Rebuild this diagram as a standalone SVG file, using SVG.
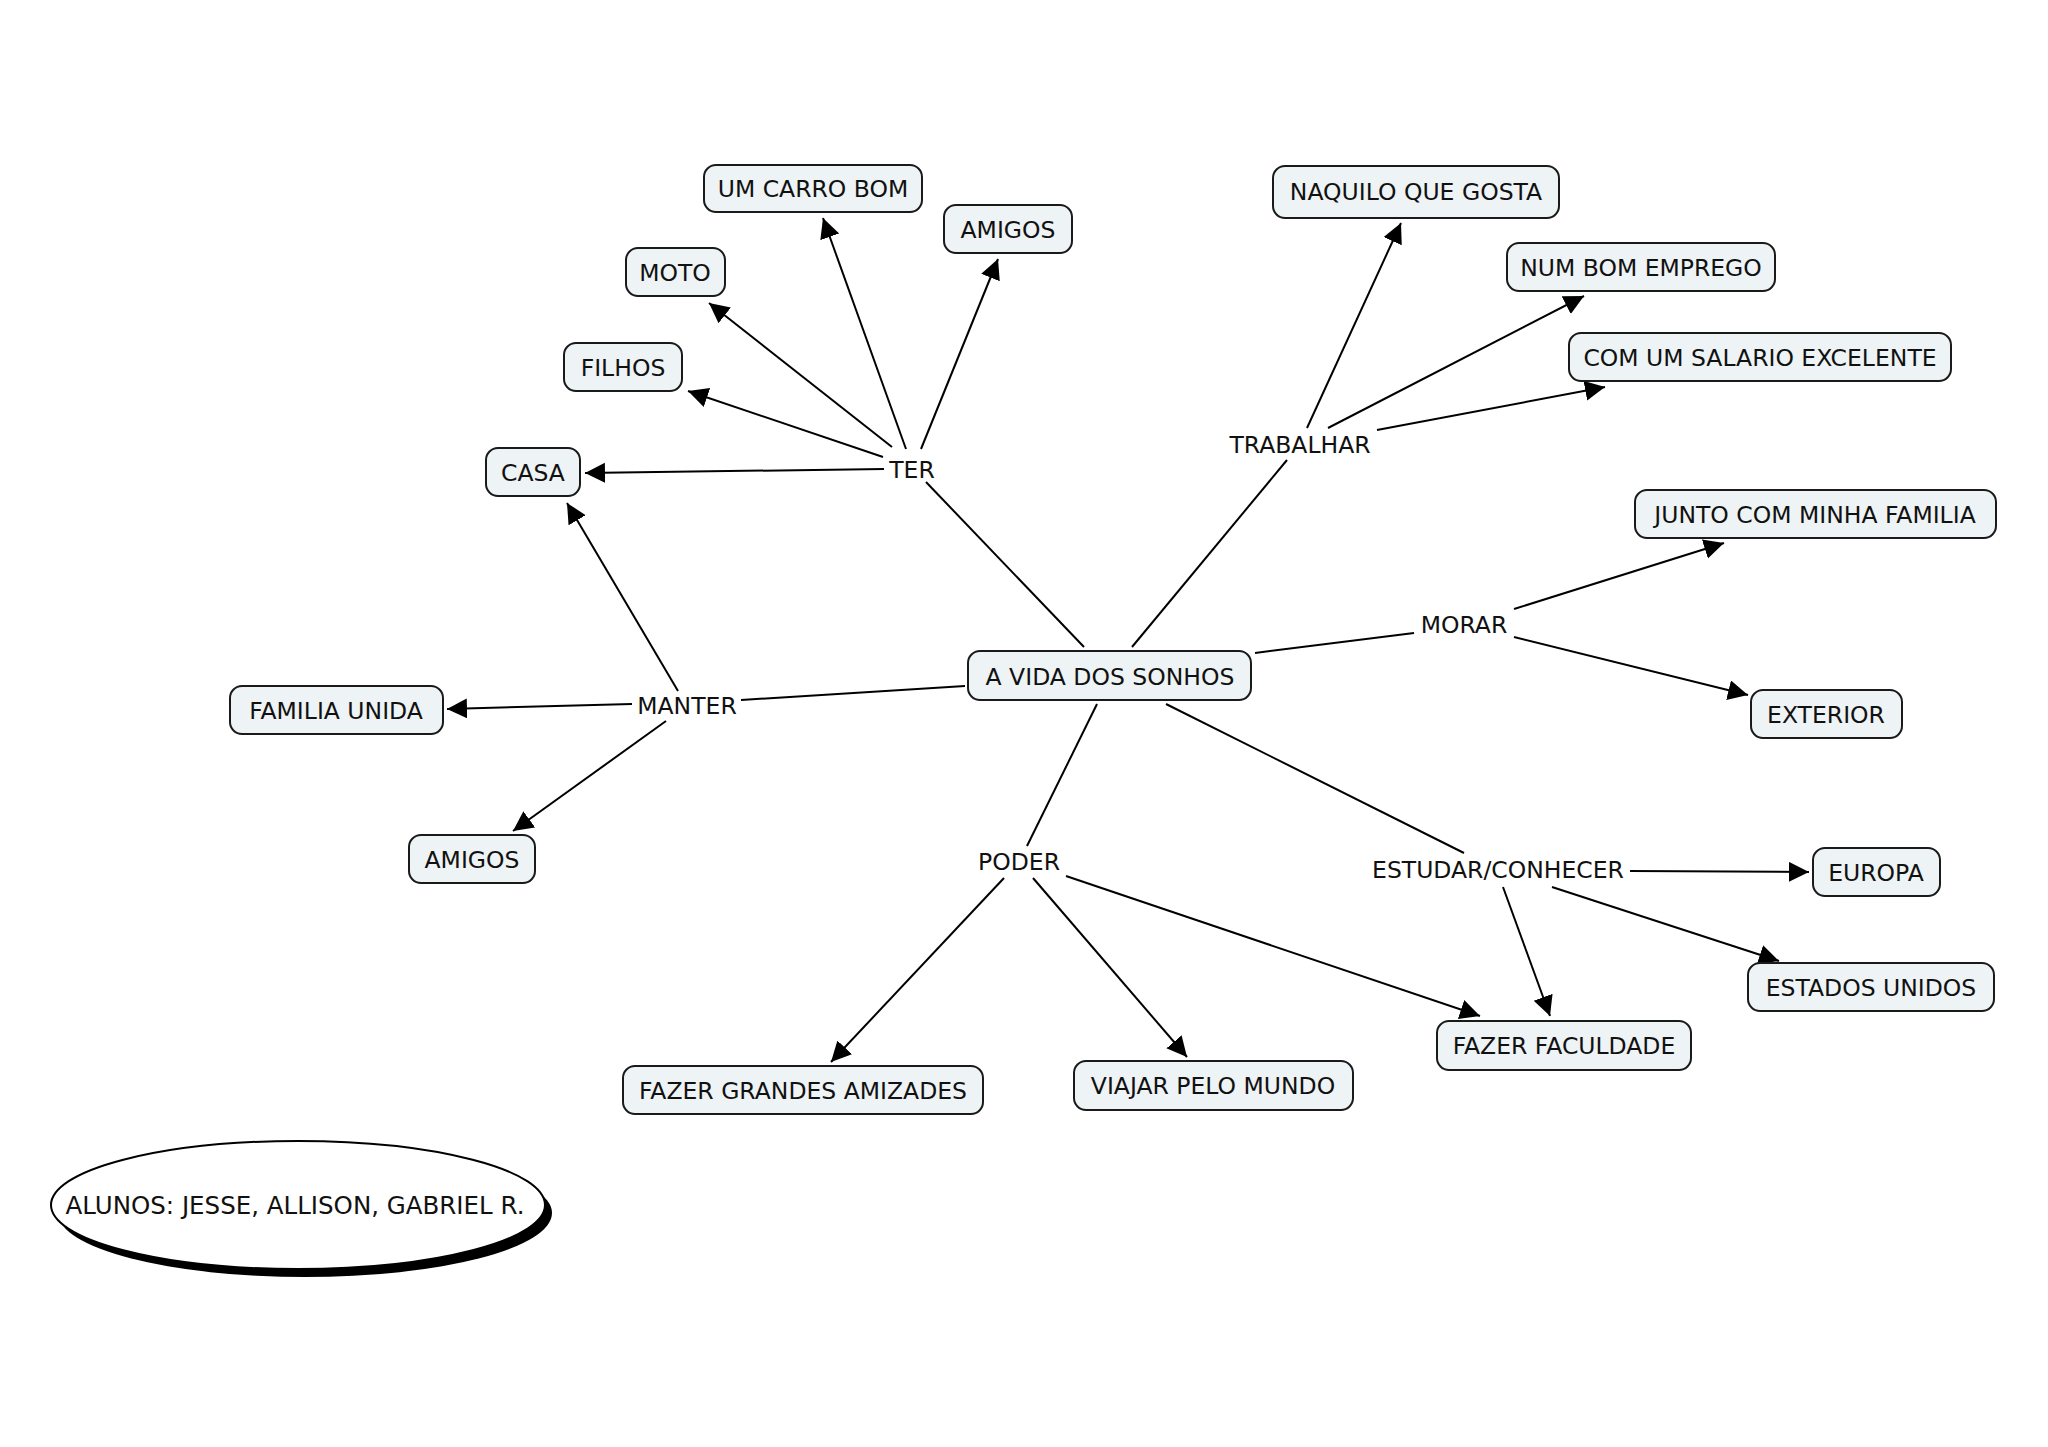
<svg xmlns="http://www.w3.org/2000/svg" width="2048" height="1447" viewBox="0 0 2048 1447">
<defs>
<marker id="arr" markerUnits="userSpaceOnUse" markerWidth="22" markerHeight="22" refX="20" refY="10" orient="auto">
<path d="M0,0 L20,10 L0,20 z" fill="#000"/>
</marker>
<style>
.box{fill:#eef3f5;stroke:#1a1a1a;stroke-width:2}
.t{font-family:"DejaVu Sans","Verdana",sans-serif;font-size:23.5px;fill:#111;text-anchor:middle}
.e{stroke:#000;stroke-width:2;fill:none}
.a{stroke:#000;stroke-width:2;fill:none;marker-end:url(#arr)}
</style>
</defs>
<rect width="2048" height="1447" fill="#fff"/>
<g id="connectors">
<line class="e" x1="1084" y1="647" x2="926" y2="482"/>
<line class="a" x1="884" y1="469" x2="585" y2="473"/>
<line class="a" x1="883" y1="457" x2="688" y2="391"/>
<line class="a" x1="892" y1="447" x2="709" y2="303"/>
<line class="a" x1="906" y1="449" x2="823" y2="218"/>
<line class="a" x1="921" y1="449" x2="998" y2="259"/>
<line class="e" x1="1132" y1="647" x2="1287" y2="460"/>
<line class="a" x1="1307" y1="428" x2="1401" y2="223"/>
<line class="a" x1="1328" y1="428" x2="1584" y2="296"/>
<line class="a" x1="1377" y1="430" x2="1605" y2="387"/>
<line class="e" x1="1255" y1="653" x2="1414" y2="633"/>
<line class="a" x1="1514" y1="609" x2="1724" y2="543"/>
<line class="a" x1="1514" y1="637" x2="1748" y2="695"/>
<line class="e" x1="965" y1="686" x2="741" y2="700"/>
<line class="a" x1="678" y1="691" x2="567" y2="503"/>
<line class="a" x1="632" y1="704" x2="447" y2="709"/>
<line class="a" x1="666" y1="721" x2="513" y2="831"/>
<line class="e" x1="1097" y1="704" x2="1027" y2="846"/>
<line class="a" x1="1004" y1="878" x2="831" y2="1062"/>
<line class="a" x1="1033" y1="878" x2="1187" y2="1057"/>
<line class="a" x1="1066" y1="876" x2="1480" y2="1016"/>
<line class="e" x1="1166" y1="704" x2="1464" y2="853"/>
<line class="a" x1="1630" y1="871" x2="1809" y2="872"/>
<line class="a" x1="1503" y1="887" x2="1550" y2="1016"/>
<line class="a" x1="1552" y1="887" x2="1779" y2="961"/>
</g>
<g id="n-vida"><rect class="box" x="968" y="651" width="283" height="49" rx="12"/><text class="t" x="1110" y="685">A VIDA DOS SONHOS</text></g>
<g id="n-ter"><text class="t" x="912" y="478">TER</text></g>
<g id="n-carro"><rect class="box" x="704" y="165" width="218" height="47" rx="12"/><text class="t" x="813" y="197">UM CARRO BOM</text></g>
<g id="n-amigos1"><rect class="box" x="944" y="205" width="128" height="48" rx="12"/><text class="t" x="1008" y="238">AMIGOS</text></g>
<g id="n-moto"><rect class="box" x="626" y="248" width="99" height="48" rx="12"/><text class="t" x="675" y="281">MOTO</text></g>
<g id="n-filhos"><rect class="box" x="564" y="343" width="118" height="48" rx="12"/><text class="t" x="623" y="376">FILHOS</text></g>
<g id="n-casa"><rect class="box" x="486" y="448" width="94" height="48" rx="12"/><text class="t" x="533" y="481">CASA</text></g>
<g id="n-trabalhar"><text class="t" x="1300" y="453">TRABALHAR</text></g>
<g id="n-naquilo"><rect class="box" x="1273" y="166" width="286" height="52" rx="12"/><text class="t" x="1416" y="200">NAQUILO QUE GOSTA</text></g>
<g id="n-emprego"><rect class="box" x="1507" y="243" width="268" height="48" rx="12"/><text class="t" x="1641" y="276">NUM BOM EMPREGO</text></g>
<g id="n-salario"><rect class="box" x="1569" y="333" width="382" height="48" rx="12"/><text class="t" x="1760" y="366">COM UM SALARIO EXCELENTE</text></g>
<g id="n-morar"><text class="t" x="1464" y="633">MORAR</text></g>
<g id="n-junto"><rect class="box" x="1635" y="490" width="361" height="48" rx="12"/><text class="t" x="1815" y="523">JUNTO COM MINHA FAMILIA</text></g>
<g id="n-exterior"><rect class="box" x="1751" y="690" width="151" height="48" rx="12"/><text class="t" x="1826" y="723">EXTERIOR</text></g>
<g id="n-manter"><text class="t" x="687" y="714">MANTER</text></g>
<g id="n-familia"><rect class="box" x="230" y="686" width="213" height="48" rx="12"/><text class="t" x="336" y="719">FAMILIA UNIDA</text></g>
<g id="n-amigos2"><rect class="box" x="409" y="835" width="126" height="48" rx="12"/><text class="t" x="472" y="868">AMIGOS</text></g>
<g id="n-poder"><text class="t" x="1019" y="870">PODER</text></g>
<g id="n-amizades"><rect class="box" x="623" y="1066" width="360" height="48" rx="12"/><text class="t" x="803" y="1099">FAZER GRANDES AMIZADES</text></g>
<g id="n-viajar"><rect class="box" x="1074" y="1061" width="279" height="49" rx="12"/><text class="t" x="1213" y="1094">VIAJAR PELO MUNDO</text></g>
<g id="n-estudar"><text class="t" x="1498" y="878">ESTUDAR/CONHECER</text></g>
<g id="n-europa"><rect class="box" x="1813" y="848" width="127" height="48" rx="12"/><text class="t" x="1876" y="881">EUROPA</text></g>
<g id="n-eua"><rect class="box" x="1748" y="963" width="246" height="48" rx="12"/><text class="t" x="1871" y="996">ESTADOS UNIDOS</text></g>
<g id="n-faculdade"><rect class="box" x="1437" y="1021" width="254" height="49" rx="12"/><text class="t" x="1564" y="1054">FAZER FACULDADE</text></g>
<g id="n-alunos">
<ellipse cx="305" cy="1213" rx="247" ry="64" fill="#000"/>
<ellipse cx="298" cy="1205" rx="247" ry="64" fill="#fff" stroke="#000" stroke-width="2"/>
<text class="t" x="295" y="1214" style="font-size:24.5px">ALUNOS: JESSE, ALLISON, GABRIEL R.</text>
</g>
</svg>
